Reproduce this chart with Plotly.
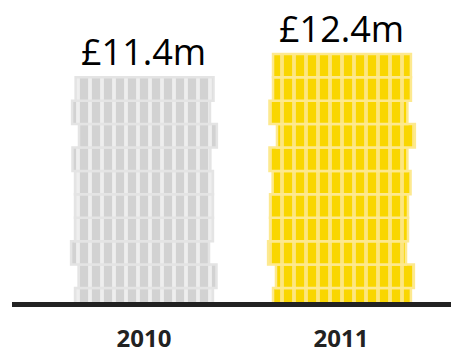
import plotly.graph_objects as go
import math

# ---- data ----
years = ["2010", "2011"]
values = [11.4, 12.4]           # £ million
labels = ["£11.4m", "£12.4m"]
coin_value = 1.0                # £1m per coin
colors = ["#d2d2d2", "#f9d600"]
stripe_colors = ["#eeeeee", "#fde67e"]
edge_colors = ["#e4e4e4", "#fde98f"]

# decorative horizontal jitter of each coin (bottom -> top), in axis units
jitter = [
    [0.0, 0.0, 0.0, 0.018, -0.020, 0.0, 0.0, 0.0, -0.013, 0.020, -0.015, 0.003],
    [0.0, 0.0, 0.005, 0.020, -0.020, -0.010, -0.010, 0.003, -0.013, 0.025, -0.013, 0.005, 0.005],
]

BAR_W = 0.70

fig = go.Figure()
for i, (yr, v) in enumerate(zip(years, values)):
    n_full = int(math.floor(v / coin_value + 1e-9))
    frac = round(v - n_full * coin_value, 6)
    heights = ([frac] if frac > 0 else []) + [coin_value] * n_full
    bases = []
    acc = 0.0
    for h in heights:
        bases.append(acc)
        acc += h
    jit = jitter[i][: len(heights)]
    jit = jit + [0.0] * (len(heights) - len(jit))
    fig.add_trace(go.Bar(
        x=[i] * len(heights),
        y=heights,
        base=bases,
        width=[BAR_W] * len(heights),
        offset=[-BAR_W / 2 + j for j in jit],
        marker=dict(
            color=colors[i],
            line=dict(color=edge_colors[i], width=2.5),
            pattern=dict(shape="|", size=12, solidity=0.32,
                         fgcolor=stripe_colors[i], bgcolor=colors[i],
                         fgopacity=1),
        ),
        hoverinfo="skip",
        showlegend=False,
    ))
    fig.add_annotation(
        x=i, y=v, xref="x", yref="y", text=labels[i],
        showarrow=False, yanchor="bottom", yshift=-1,
        font=dict(family="Open Sans", size=36, color="#000000"),
    )

fig.update_layout(
    width=451, height=339,
    margin=dict(l=4, r=0, t=0, b=45, autoexpand=False),
    paper_bgcolor="white", plot_bgcolor="white",
    barmode="overlay",
    xaxis=dict(
        range=[-0.670, 1.599], automargin=False,
        tickmode="array", tickvals=[0, 1], ticktext=years,
        showgrid=False, zeroline=False,
        showline=True, linewidth=5, linecolor="#222222",
        ticks="", ticklabelstandoff=11,
        tickfont=dict(family="Open Sans", size=24, color="#222222", weight="bold"),
    ),
    yaxis=dict(
        range=[1.8, 14.36], visible=False, showgrid=False, zeroline=False,
        automargin=False,
    ),
)

fig.write_html("out.html")
